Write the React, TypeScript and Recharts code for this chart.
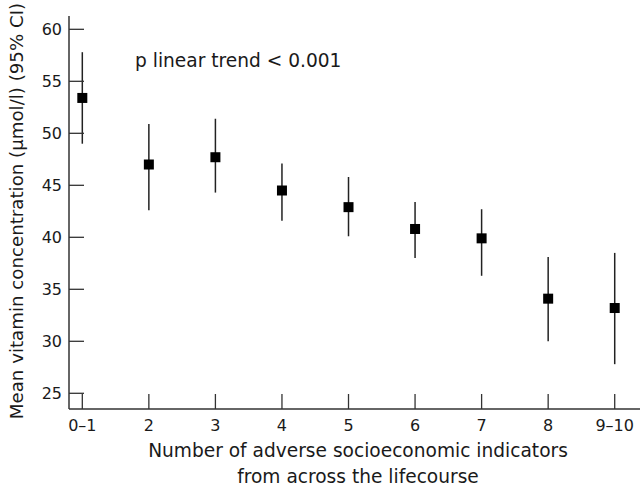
import React from 'react';
import { ComposedChart, Scatter, ErrorBar, XAxis, YAxis } from 'recharts';

const groups = ['0–1', '2', '3', '4', '5', '6', '7', '8', '9–10'];
const means = [53.4, 47.0, 47.7, 44.5, 42.9, 40.8, 39.9, 34.1, 33.2];
const lower = [49.0, 42.6, 44.3, 41.6, 40.1, 38.0, 36.3, 30.0, 27.8];
const upper = [57.8, 50.9, 51.4, 47.1, 45.8, 43.4, 42.7, 38.1, 38.5];
const yTicks = [25, 30, 35, 40, 45, 50, 55, 60];

const FONT = '"DejaVu Sans", sans-serif';
const INK = '#1a1a1a';
const AXIS = '#333';

const data = groups.map((g, i) => ({
  x: i,
  mean: means[i],
  ci: [means[i] - lower[i], upper[i] - means[i]],
}));

const XTick = (props: any) => {
  const { x, y, payload } = props;
  return (
    <g>
      <line x1={x} x2={x} y1={y - 15} y2={y} stroke={AXIS} strokeWidth={1.3} />
      <text x={x} y={y + 22} textAnchor="middle" fontSize={16} fontFamily={FONT} fill={INK}>
        {groups[payload.value]}
      </text>
    </g>
  );
};

const YTick = (props: any) => {
  const { x, y, payload } = props;
  return (
    <g>
      <line x1={x} x2={x + 15} y1={y} y2={y} stroke={AXIS} strokeWidth={1.3} />
      <text x={x - 7} y={y + 6} textAnchor="end" fontSize={16} fontFamily={FONT} fill={INK}>
        {payload.value}
      </text>
    </g>
  );
};

const Square = (props: any) => {
  const { cx, cy } = props;
  return <rect x={cx - 5} y={cy - 5} width={10} height={10} fill="#000" />;
};

export default function App() {
  return (
    <div style={{ position: 'absolute', left: 0, top: 0, width: 640, height: 487, background: '#fff' }}>
      <ComposedChart
        width={640}
        height={487}
        data={data}
        margin={{ top: 16, right: 0, bottom: 0, left: 0 }}
      >
        <XAxis
          type="number"
          dataKey="x"
          domain={[-0.2, 8.38]}
          ticks={[0, 1, 2, 3, 4, 5, 6, 7, 8]}
          allowDataOverflow
          height={78}
          tickSize={0}
          tickMargin={0}
          tickLine={false}
          tick={<XTick />}
          axisLine={{ stroke: AXIS, strokeWidth: 1.5 }}
        />
        <YAxis
          type="number"
          domain={[23.49, 61.28]}
          ticks={yTicks}
          allowDataOverflow
          width={69}
          tickSize={0}
          tickMargin={0}
          tickLine={false}
          tick={<YTick />}
          axisLine={{ stroke: AXIS, strokeWidth: 1.5 }}
        />
        <Scatter dataKey="mean" shape={<Square />} isAnimationActive={false}>
          <ErrorBar dataKey="ci" direction="y" width={0} stroke="#222" strokeWidth={1.5} />
        </Scatter>
      </ComposedChart>
      <div
        style={{
          position: 'absolute',
          left: 135,
          top: 50,
          fontFamily: FONT,
          fontSize: 18.6,
          color: INK,
          whiteSpace: 'nowrap',
        }}
      >
        p linear trend &lt; 0.001
      </div>
      <div
        style={{
          position: 'absolute',
          left: 69,
          width: 578,
          top: 438,
          textAlign: 'center',
          fontFamily: FONT,
          fontSize: 18.6,
          lineHeight: '26px',
          color: INK,
        }}
      >
        Number of adverse socioeconomic indicators
        <br />
        from across the lifecourse
      </div>
      <div
        style={{
          position: 'absolute',
          left: 16,
          top: 211,
          transform: 'translate(-50%, -50%) rotate(-90deg)',
          fontFamily: FONT,
          fontSize: 18.2,
          color: INK,
          whiteSpace: 'nowrap',
        }}
      >
        Mean vitamin concentration (µmol/l) (95% CI)
      </div>
    </div>
  );
}
